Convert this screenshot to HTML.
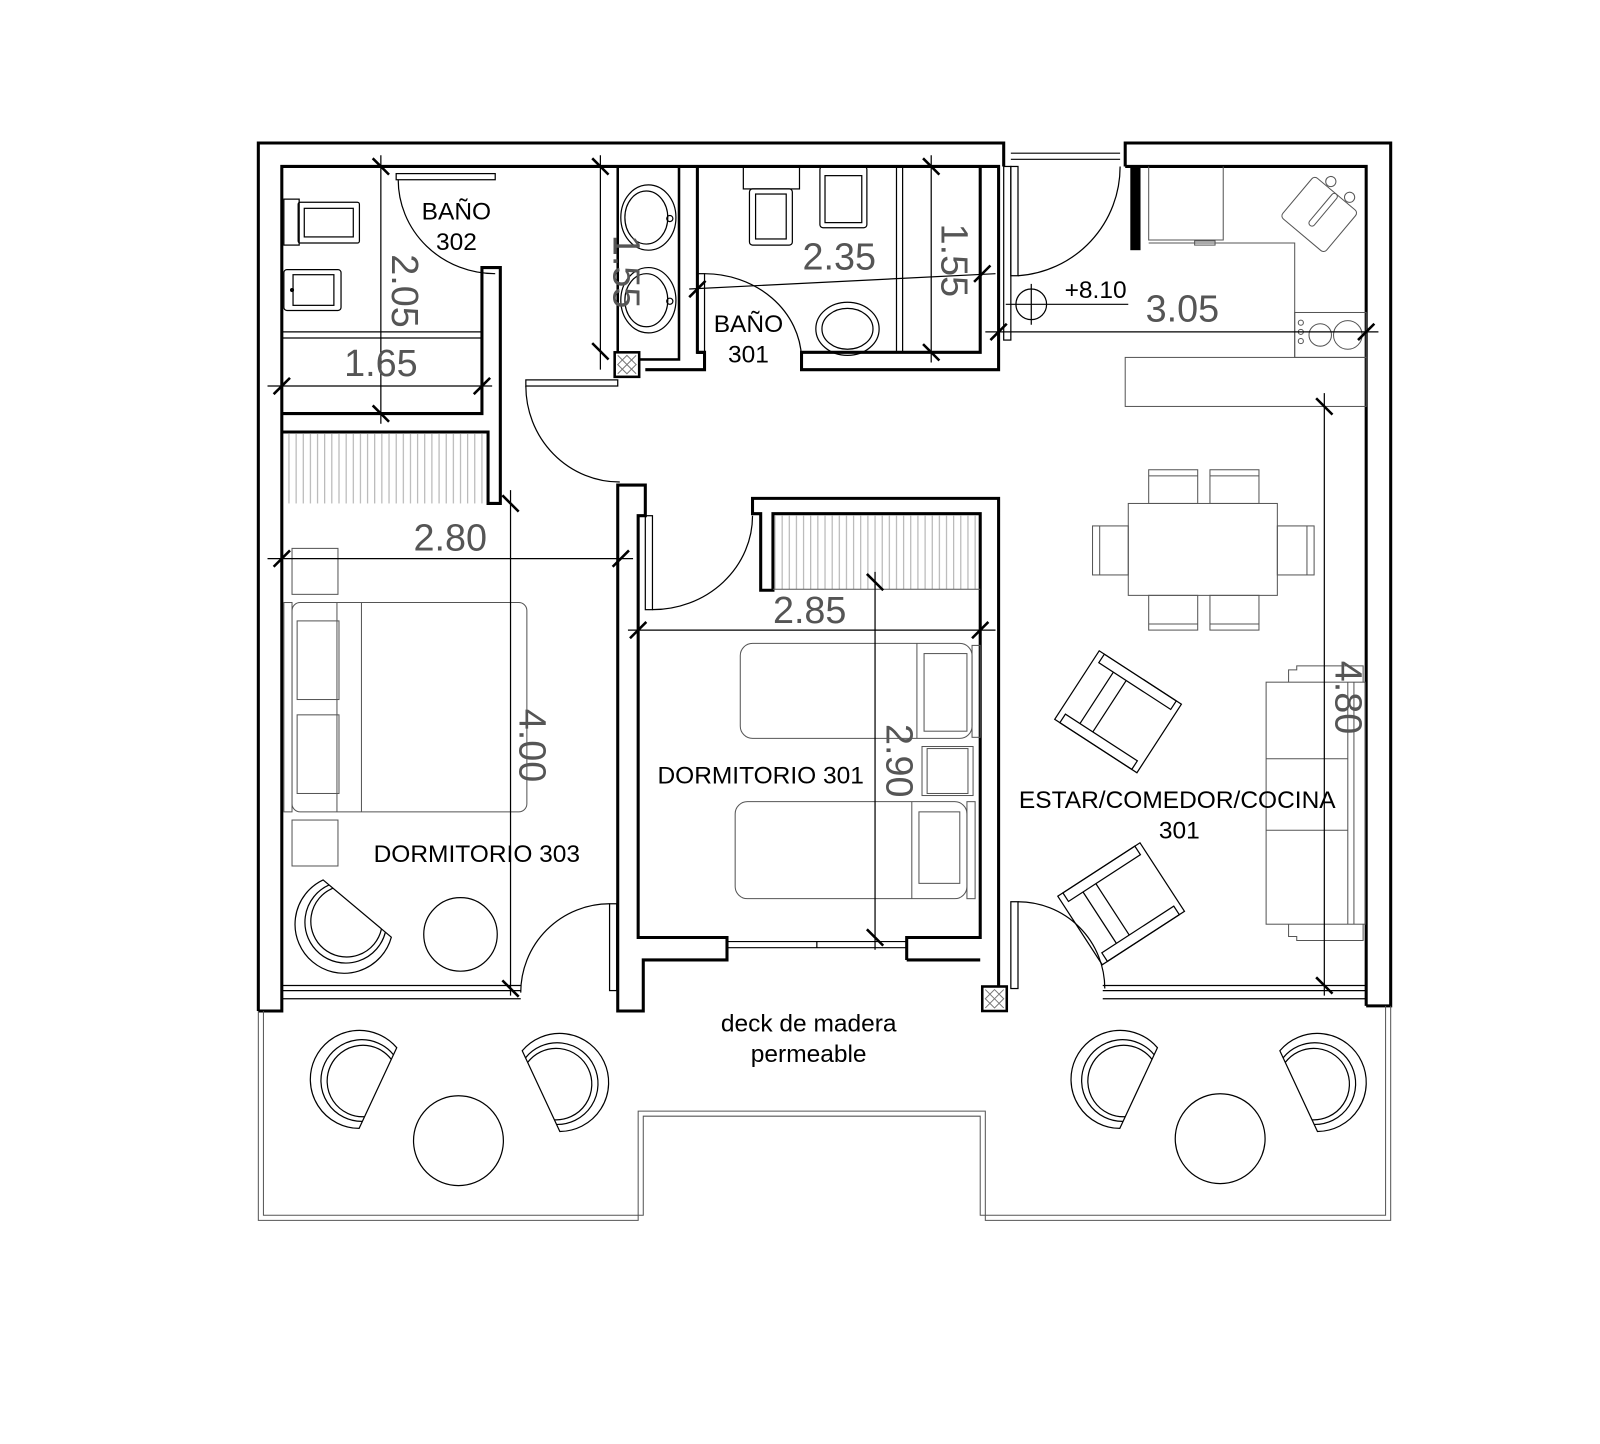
<!DOCTYPE html>
<html><head><meta charset="utf-8"><style>
html,body{margin:0;padding:0;background:#fff;}
svg{display:block}
.w{fill:none;stroke:#000;stroke-width:3}
.t{fill:none;stroke:#000;stroke-width:1.2}
.g{fill:none;stroke:#555;stroke-width:1}
.h{stroke:#aaa;stroke-width:1}
.d{font-family:"Liberation Sans",sans-serif;font-size:37px;fill:#555;font-weight:normal}
.l{font-family:"Liberation Sans",sans-serif;font-size:24px;fill:#000}
</style></head><body>
<svg width="1600" height="1444" viewBox="0 0 1567 1414" preserveAspectRatio="none" xmlns="http://www.w3.org/2000/svg">
<defs>
<pattern id="hat" width="7" height="10" patternUnits="userSpaceOnUse"><line x1="3" y1="0" x2="3" y2="10" stroke="#aaa" stroke-width="1"/></pattern>
<g id="chair"><path class="t" d="M20,-43.6 A48,48 0 1 0 20,43.6 Z"/><path class="t" d="M20,-36 A40,40 0 1 0 20,36"/><path class="t" d="M20,-31 A35,35 0 1 0 20,31"/></g>
<g id="arm"><rect class="t" x="-48" y="-40" width="96" height="80"/><rect class="t" x="-42" y="-40" width="84" height="10"/><rect class="t" x="-42" y="30" width="84" height="10"/><line class="t" x1="-25" y1="-30" x2="-25" y2="30"/><line class="t" x1="-10" y1="-30" x2="-10" y2="30"/></g>
<g id="hx"><rect x="0" y="0" width="24" height="24" fill="#fff" stroke="#000" stroke-width="2.5"/><path d="M3,3 L21,21 M21,3 L3,21 M12,3 L21,12 L12,21 L3,12 Z" stroke="#777" stroke-width="1" fill="none"/></g>
</defs>

<!-- outer walls -->
<path class="w" d="M253,990 V140 H983 V163"/>
<path class="w" d="M1102,163 V140 H1362 V985 H1338"/>
<path class="w" d="M253,990 H276 V163 H978 V362 H785 V345 H960 V163"/>
<path class="w" d="M1102,163 H1338 V985"/>
<line class="t" x1="990" y1="150" x2="1097" y2="150"/><line class="t" x1="990" y1="156" x2="1097" y2="156"/>
<rect x="1107" y="163" width="10" height="82" fill="#000"/>
<rect class="t" x="983" y="163" width="7" height="170"/>

<!-- baño 302 -->
<path class="w" d="M276,405 H472 V262 H490 V493 H478 V423 H276"/>
<rect x="278" y="425" width="198" height="68" fill="url(#hat)" stroke="none"/>
<line class="t" x1="276" y1="325" x2="472" y2="325"/><line class="t" x1="276" y1="331" x2="472" y2="331"/>
<rect class="t" x="278" y="195" width="15" height="45"/><rect class="t" x="292" y="198" width="60" height="40" rx="2"/><rect class="t" x="298" y="204" width="48" height="28"/>
<rect class="t" x="278" y="264" width="56" height="40" rx="3"/><rect class="t" x="287" y="269" width="40" height="30"/><circle cx="286" cy="284" r="2" fill="#000"/>
<rect class="t" x="388" y="170" width="97" height="6"/>
<path class="t" d="M390,176 A95,92 0 0 0 485,268"/>

<!-- vanity & baño 301 -->
<rect class="w" x="605" y="163" width="60" height="189" style="stroke-width:2.5"/>
<ellipse class="t" cx="635" cy="213" rx="27" ry="32"/><ellipse class="t" cx="633" cy="213" rx="21" ry="26"/><circle class="t" cx="656" cy="214" r="3"/>
<ellipse class="t" cx="635" cy="294" rx="27" ry="32"/><ellipse class="t" cx="633" cy="294" rx="21" ry="26"/><circle class="t" cx="656" cy="295" r="3"/>
<path class="w" d="M683,163 V345 H690 V362 H632"/>
<rect class="t" x="683" y="268" width="7" height="78"/>
<use href="#hx" x="602" y="345"/>
<path class="t" d="M690,268 A95,85 0 0 1 785,350"/>
<rect class="t" x="728" y="163" width="55" height="22"/><rect class="t" x="734" y="185" width="42" height="55" rx="3"/><rect class="t" x="740" y="190" width="30" height="44"/>
<rect class="t" x="803" y="163" width="46" height="60" rx="3"/><rect class="t" x="808" y="172" width="36" height="46"/>
<ellipse class="t" cx="830" cy="322" rx="31" ry="26"/><ellipse class="t" cx="830" cy="322" rx="25" ry="20"/>
<line class="t" x1="878" y1="163" x2="878" y2="345"/><line class="t" x1="884" y1="163" x2="884" y2="345"/>

<!-- entry door -->
<path class="t" d="M997,270 A107,107 0 0 0 1097,163"/>
<rect class="t" x="990" y="163" width="7" height="107"/>

<!-- kitchen -->
<path class="g" d="M1125,163 V235 H1198 V163 M1125,238 H1268 V350"/>
<rect class="g" x="1170" y="236" width="20" height="4"/>
<g transform="translate(1292,210) rotate(40)"><rect class="g" x="-28" y="-26" width="56" height="52" rx="4"/><rect class="g" x="-3" y="-26" width="6" height="40" rx="3"/><circle class="g" cx="-12" cy="-32" r="5"/><circle class="g" cx="12" cy="-32" r="5"/></g>
<rect class="g" x="1268" y="306" width="70" height="44"/><circle class="g" cx="1293" cy="328" r="11"/><circle class="g" cx="1320" cy="328" r="14"/>
<circle class="g" cx="1274" cy="316" r="2.5"/><circle class="g" cx="1274" cy="325" r="2.5"/><circle class="g" cx="1274" cy="334" r="2.5"/>
<rect class="g" x="1102" y="350" width="236" height="48"/>

<!-- corridor door -->
<rect class="t" x="515" y="372" width="90" height="6"/>
<path class="t" d="M515,378 A92,94 0 0 0 607,472"/>

<!-- dorm 301 -->
<path class="w" d="M605,475 V990 H630 V940 H712 V918 H625 V505 H632 V475 Z"/>
<path class="w" d="M888,940 V918 H960 V503 H757 V578 H745 V503 H737 V488 H978 V990"/>
<path class="w" d="M888,940 H960"/>
<line class="t" x1="712" y1="922" x2="888" y2="922"/><line class="t" x1="712" y1="928" x2="888" y2="928"/><line class="t" x1="800" y1="922" x2="800" y2="928"/>
<rect x="758" y="505" width="200" height="72" fill="url(#hat)"/>
<line class="g" x1="757" y1="577" x2="960" y2="577"/>
<rect class="t" x="632" y="505" width="7" height="92"/>
<path class="t" d="M639,597 A98,92 0 0 0 737,505"/>
<rect class="g" x="725" y="630" width="227" height="93" rx="12"/><line class="g" x1="898" y1="630" x2="898" y2="723"/><rect class="g" x="905" y="640" width="42" height="76"/>
<rect class="g" x="903" y="731" width="50" height="48"/><rect class="g" x="908" y="733" width="40" height="44"/>
<rect class="g" x="720" y="785" width="227" height="95" rx="12"/><line class="g" x1="893" y1="785" x2="893" y2="880"/><rect class="g" x="900" y="795" width="40" height="70"/>
<rect class="g" x="947" y="785" width="8" height="95"/><rect class="g" x="952" y="632" width="8" height="90"/>

<!-- dorm 303 -->
<line class="t" x1="276" y1="965" x2="510" y2="965"/><line class="t" x1="276" y1="970" x2="510" y2="970"/><line class="t" x1="276" y1="978" x2="510" y2="978"/>
<rect class="t" x="597" y="885" width="7" height="85"/>
<path class="t" d="M510,972 A87,87 0 0 1 597,885"/>
<rect class="g" x="286" y="537" width="45" height="45"/>
<rect class="g" x="278" y="590" width="8" height="205"/>
<rect class="g" x="286" y="590" width="230" height="205" rx="8"/><line class="g" x1="330" y1="590" x2="330" y2="795"/><line class="g" x1="354" y1="590" x2="354" y2="795"/>
<rect class="g" x="291" y="608" width="41" height="77"/><rect class="g" x="291" y="700" width="41" height="77"/>
<rect class="g" x="286" y="803" width="45" height="45"/>
<use href="#chair" transform="translate(337,905) rotate(-50)"/>
<circle class="t" cx="451" cy="915" r="36"/>

<!-- living -->
<rect class="t" x="990" y="883" width="7" height="85"/>
<path class="t" d="M997,883 A85,85 0 0 1 1082,968"/>
<line class="t" x1="1080" y1="965" x2="1338" y2="965"/><line class="t" x1="1080" y1="970" x2="1338" y2="970"/><line class="t" x1="1080" y1="978" x2="1338" y2="978"/>
<use href="#hx" x="962" y="966"/>
<rect class="g" x="1105" y="493" width="146" height="90"/>
<rect class="g" x="1125" y="460" width="48" height="33"/><line class="g" x1="1125" y1="466" x2="1173" y2="466"/>
<rect class="g" x="1185" y="460" width="48" height="33"/><line class="g" x1="1185" y1="466" x2="1233" y2="466"/>
<rect class="g" x="1125" y="583" width="48" height="34"/><line class="g" x1="1125" y1="611" x2="1173" y2="611"/>
<rect class="g" x="1185" y="583" width="48" height="34"/><line class="g" x1="1185" y1="611" x2="1233" y2="611"/>
<rect class="g" x="1070" y="515" width="35" height="48"/><line class="g" x1="1077" y1="515" x2="1077" y2="563"/>
<rect class="g" x="1251" y="515" width="36" height="48"/><line class="g" x1="1280" y1="515" x2="1280" y2="563"/>
<use href="#arm" transform="translate(1095,697) rotate(33)"/>
<use href="#arm" transform="translate(1098,885) rotate(-33)"/>
<rect class="g" x="1240" y="668" width="97" height="237"/><line class="g" x1="1240" y1="743" x2="1320" y2="743"/><line class="g" x1="1240" y1="813" x2="1320" y2="813"/>
<line class="g" x1="1320" y1="668" x2="1320" y2="905"/><line class="g" x1="1326" y1="668" x2="1326" y2="905"/>
<path class="g" d="M1262,668 V656 H1270 V652 H1335 V668 M1262,905 V917 H1270 V921 H1335 V905"/>

<!-- deck -->
<path class="g" d="M253,990 V1195 H625 V1088 H965 V1195 H1362 V985"/>
<path class="g" d="M258,990 V1190 H630 V1093 H960 V1190 H1357 V985"/>
<use href="#chair" transform="translate(352,1057) rotate(25)"/>
<use href="#chair" transform="translate(548,1060) rotate(155)"/>
<circle class="t" cx="449" cy="1117" r="44"/>
<use href="#chair" transform="translate(1097,1057) rotate(25)"/>
<use href="#chair" transform="translate(1290,1060) rotate(155)"/>
<circle class="t" cx="1195" cy="1115" r="44"/>

<!-- dimension lines -->
<g class="t">
<line x1="373" y1="152" x2="373" y2="415"/><line x1="262" y1="378" x2="482" y2="378"/>
<line x1="588" y1="152" x2="588" y2="362"/>
<line x1="675" y1="283" x2="975" y2="268"/>
<line x1="912" y1="152" x2="912" y2="355"/>
<line x1="965" y1="325" x2="1350" y2="325"/>
<line x1="1297" y1="385" x2="1297" y2="975"/>
<line x1="262" y1="547" x2="620" y2="547"/>
<line x1="500" y1="480" x2="500" y2="975"/>
<line x1="615" y1="617" x2="975" y2="617"/>
<line x1="857" y1="560" x2="857" y2="930"/>
<line x1="985" y1="298" x2="1105" y2="298"/><circle cx="1010" cy="298" r="15"/><line x1="1010" y1="278" x2="1010" y2="318"/>
</g>
<g stroke="#000" stroke-width="2.5">
<path d="M365,155 L381,171 M365,397 L381,413 M268,386 L284,370 M464,386 L480,370 M580,155 L596,171 M580,336 L596,352"/>
<path d="M675,291 L691,275 M954,276 L970,260 M904,155 L920,171 M904,337 L920,353"/>
<path d="M970,333 L986,317 M1330,333 L1346,317 M1289,390 L1305,406 M1289,957 L1305,973"/>
<path d="M268,555 L284,539 M600,555 L616,539 M492,485 L508,501 M492,960 L508,976"/>
<path d="M617,625 L633,609 M952,625 L968,609 M849,562 L865,578 M849,910 L865,926"/>
</g>

<!-- dimension text -->
<text class="d" x="373" y="368" text-anchor="middle">1.65</text>
<text class="d" transform="translate(384,285) rotate(90)" text-anchor="middle">2.05</text>
<text class="d" transform="translate(601,266) rotate(90)" text-anchor="middle">1.55</text>
<text class="d" x="822" y="264" text-anchor="middle">2.35</text>
<text class="d" transform="translate(922,255) rotate(90)" text-anchor="middle">1.55</text>
<text class="d" x="1158" y="315" text-anchor="middle">3.05</text>
<text class="d" transform="translate(1308,683) rotate(90)" text-anchor="middle">4.80</text>
<text class="d" x="441" y="539" text-anchor="middle">2.80</text>
<text class="d" transform="translate(509,730) rotate(90)" text-anchor="middle">4.00</text>
<text class="d" x="793" y="610" text-anchor="middle">2.85</text>
<text class="d" transform="translate(868,745) rotate(90)" text-anchor="middle">2.90</text>
<text class="l" x="1073" y="292" text-anchor="middle">+8.10</text>

<!-- labels -->
<text class="l" x="447" y="215" text-anchor="middle">BAÑO</text>
<text class="l" x="447" y="245" text-anchor="middle">302</text>
<text class="l" x="733" y="325" text-anchor="middle">BAÑO</text>
<text class="l" x="733" y="355" text-anchor="middle">301</text>
<text class="l" x="745" y="767" text-anchor="middle">DORMITORIO 301</text>
<text class="l" x="467" y="844" text-anchor="middle">DORMITORIO 303</text>
<text class="l" x="1153" y="791" text-anchor="middle">ESTAR/COMEDOR/COCINA</text>
<text class="l" x="1155" y="821" text-anchor="middle">301</text>
<text class="l" x="792" y="1010" text-anchor="middle">deck de madera</text>
<text class="l" x="792" y="1040" text-anchor="middle">permeable</text>
</svg>
</body></html>
